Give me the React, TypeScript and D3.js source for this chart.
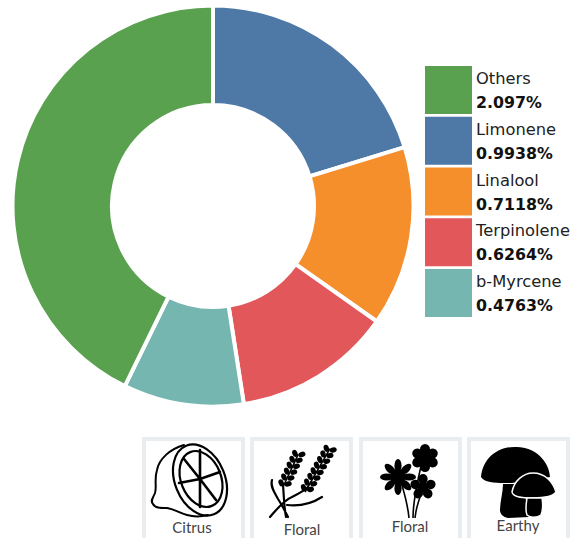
import React from "react";
import * as d3 from "d3";

const names = ["Limonene", "Linalool", "Terpinolene", "b-Myrcene", "Others"];
const values = [0.9938, 0.7118, 0.6264, 0.4763, 2.097];
const colors = ["#4e79a7", "#f58f2c", "#e1575a", "#76b6b0", "#59a14f"];
const legendOrder = ["Others", "Limonene", "Linalool", "Terpinolene", "b-Myrcene"];
const legendLabels = ["2.097%", "0.9938%", "0.7118%", "0.6264%", "0.4763%"];
const iconNames = ["Citrus", "Floral", "Floral", "Earthy"];

const Citrus = () => (
  <g fill="none" stroke="#000" strokeWidth={2} strokeLinecap="round" strokeLinejoin="round">
    <path d="M42 8 C28 12 17 22 15 33 C12 42 15 50 13 56 C11 61 8 64 11 67 C13 71 18 71 25 71 C32 72 37 76 45 78 C52 80 58 80 66 78" />
    <ellipse cx={58} cy={43} rx={25} ry={37} transform="rotate(-22 58 43)" strokeWidth={2.2} />
    <ellipse cx={59} cy={42} rx={20} ry={29} transform="rotate(-22 59 42)" strokeWidth={2.2} />
    <path d="M58 42 L42 22 M58 42 L58 13 M58 42 L78 35 M58 42 L74 63 M58 42 L58 70 M58 42 L37 46" strokeWidth={2.6} />
  </g>
);

const Sprig = ({ x, y, a, len }: { x: number; y: number; a: number; len: number }) => (
  <g transform={`translate(${x} ${y}) rotate(${a})`} fill="#000">
    <path d={`M0 0 L0 ${-len}`} stroke="#000" strokeWidth={1.6} />
    {d3.range(3, len, 6.5).map((d) => (
      <g key={d}>
        <ellipse cx={-3.4} cy={-d} rx={3.6} ry={2.6} transform={`rotate(45 -3.4 ${-d})`} />
        <ellipse cx={3.4} cy={-d - 2} rx={3.6} ry={2.6} transform={`rotate(-45 3.4 ${-d - 2})`} />
      </g>
    ))}
  </g>
);

const Lavender = () => (
  <g>
    <Sprig x={33} y={50} a={25} len={36} />
    <Sprig x={55} y={55} a={30} len={50} />
    <path d="M33 48 C34 60 34 70 36 80 M20 80 C27 72 34 63 42 60 C48 57 54 54 58 50 M22 43 C20 50 25 56 28 62 C32 68 35 74 38 80 M37 68 C46 69 58 69 72 60" fill="none" stroke="#000" strokeWidth={2.2} strokeLinecap="round" />
  </g>
);

const Flower = ({ x, y, r, n }: { x: number; y: number; r: number; n: number }) => (
  <g transform={`translate(${x} ${y})`} fill="#000">
    {d3.range(n).map((i) => (
      <ellipse key={i} cx={0} cy={-r * 0.62} rx={r * (n > 6 ? 0.2 : 0.36)} ry={r * 0.38} transform={`rotate(${(i * 360) / n})`} />
    ))}
    <circle r={r * 0.42} />
  </g>
);

const Flowers = () => (
  <g>
    <path d="M42 45 C46 58 49 70 50 81 M54 81 C54 68 57 50 63 25 M56 81 C57 70 60 62 64 52" fill="none" stroke="#000" strokeWidth={1.6} />
    <Flower x={39} y={40} r={18} n={8} />
    <Flower x={66} y={21} r={14} n={6} />
    <Flower x={64} y={50} r={13} n={5} />
  </g>
);

const Mushrooms = () => (
  <g>
    <path d="M36 47 L56 47 L62 80 L41 81 C36 80 33 77 33 73 C33 64 36 56 36 47 Z" fill="#000" />
    <path d="M14 40 C16 20 32 9 50 10 C68 10 82 24 83 40 L45 46 C34 46 18 47 14 40 Z" fill="#000" />
    <path d="M45 55 C47 44 56 36 66 36 C78 36 86 45 89 55 C86 60 74 61 66 61 C58 61 46 61 45 55 Z" fill="#000" stroke="#fff" strokeWidth={1.5} />
    <path d="M60 61 L75 61 C76 67 76 73 74 78 C70 81 63 81 60 78 C58 73 59 67 60 61 Z" fill="#000" stroke="#fff" strokeWidth={1.5} />
  </g>
);

const iconArt = [<Citrus />, <Lavender />, <Flowers />, <Mushrooms />];
const cardX = [142, 250, 359, 467];
const labelX = [50, 52, 51, 51];
const labelY = [96, 98, 95, 94];

export default function App() {
  const pie = d3.pie<number>().sort(null).value((d) => d)(values);
  const arc = d3.arc<d3.PieArcDatum<number>>().innerRadius(101).outerRadius(200.5);
  const byName = d3.scaleOrdinal<string, string>().domain(names).range(colors);
  const legendY = d3.scaleLinear().domain([0, 4]).range([66, 269]);

  return (
    <svg width={575} height={538} style={{ position: "absolute", left: 0, top: 0 }} fontFamily="'DejaVu Sans', sans-serif">
      <defs>
        <filter id="soft"><feGaussianBlur stdDeviation={0.35} /></filter>
      </defs>
      <g transform="translate(213 206)">
        {pie.map((p, i) => (
          <path key={names[i]} d={arc(p) ?? ""} fill={colors[i]} stroke="#fff" strokeWidth={4} />
        ))}
      </g>
      {legendOrder.map((n, i) => (
        <g key={n} transform={`translate(425 ${legendY(i)})`}>
          <rect width={47} height={48} fill={byName(n)} />
          <text x={51} y={18} fontSize={16.3} fill="#222">{n}</text>
          <text x={51} y={42} fontSize={15.8} fontWeight="bold" fill="#111">{legendLabels[i]}</text>
        </g>
      ))}
      {iconNames.map((n, i) => (
        <g key={i} transform={`translate(${cardX[i]} 437)`}>
          <rect x={2} y={2} width={99} height={110} fill="#fff" stroke="#eaedf0" strokeWidth={4} />
          <g filter="url(#soft)">{iconArt[i]}</g>
          <text x={labelX[i]} y={labelY[i]} textAnchor="middle" fontSize={15} fontFamily="Lato, sans-serif" fill="#444">{n}</text>
        </g>
      ))}
    </svg>
  );
}
